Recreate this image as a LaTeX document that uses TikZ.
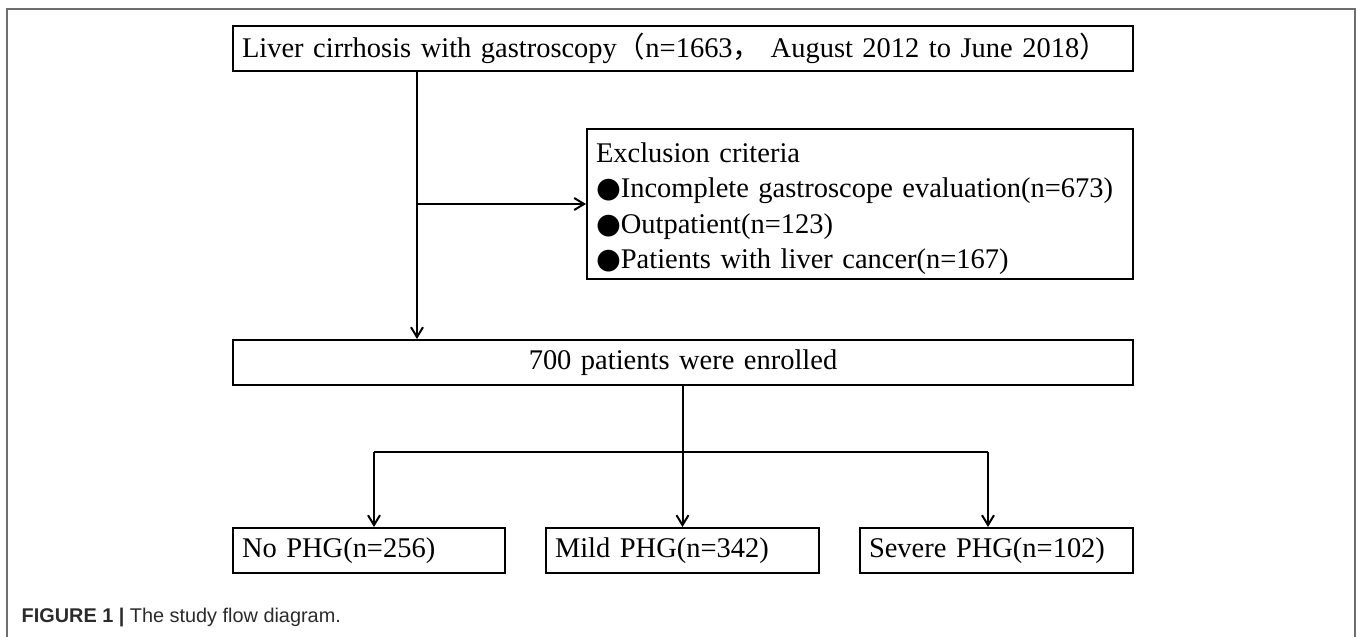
\documentclass[tikz,border=0pt]{standalone}
\usepackage{fontspec}
\setmainfont{Liberation Serif}
\newfontfamily\cjk{Noto Sans CJK SC}
\newfontfamily\dejavu{DejaVu Sans}
\newfontfamily\capfont{Liberation Sans}
\usetikzlibrary{arrows.meta}
\newlength\ppx
\setlength\ppx{0.01cm}
\definecolor{framegray}{HTML}{6E6E6E}
\definecolor{captext}{HTML}{2B2B2B}
\newcommand\bul{{\dejavu ●}}
\tikzset{
  box/.style={draw, line width=0.57pt, rectangle, inner xsep=9\ppx, inner ysep=0pt,
    minimum height=45\ppx, anchor=north west, align=left,
    font=\fontsize{8.1pt}{10pt}\selectfont},
  conn/.style={line width=0.57pt},
  arr/.style={conn, -{Straight Barb[length=2.8pt,width=3.4pt,line width=0.57pt]}},
}
\begin{document}
\begin{tikzpicture}[x=0.01cm, y=-0.01cm]
\useasboundingbox (0,0) rectangle (1357,637);
% outer frame (open at bottom)
\draw[framegray, line width=0.42pt] (7,637) -- (7,9) -- (1355,9) -- (1355,637);

% boxes
\node[box, text width=882\ppx] (top) at (232,25)
  {Liver cirrhosis with gastroscopy{\cjk （}n=1663{\cjk ，} August 2012 to June 2018{\cjk ）}};
\node[box, text width=528\ppx, minimum height=150\ppx, inner xsep=9\ppx] (excl) at (586,128)
  {\rule{0pt}{29\ppx}Exclusion criteria\\
   \bul Incomplete gastroscope evaluation(n=673)\\
   \bul Outpatient(n=123)\\
   \bul Patients with liver cancer(n=167)};
\node[box, text width=900\ppx, inner xsep=0pt, align=center] (enr) at (232,339)
  {700 patients were enrolled};
\node[box, text width=254\ppx] (nophg) at (232,527) {No PHG(n=256)};
\node[box, text width=255\ppx] (mild) at (545,527) {Mild PHG(n=342)};
\node[box, text width=255\ppx] (sev) at (859,527) {Severe PHG(n=102)};

% connectors
\coordinate (spine) at (417,0);
\draw[arr] (top.south -| spine) -- (enr.north -| spine);
\draw[arr] (spine |- excl.west) -- (excl.west);
\draw[arr] (enr.south -| mild.north) -- (mild.north);
\coordinate (bl) at (374,452);
\coordinate (br) at (988,452);
\draw[conn] (bl) -- (br);
\draw[arr] (bl) -- (bl |- nophg.north);
\draw[arr] (br) -- (br |- sev.north);

% caption
\node[anchor=base west, inner sep=0pt, text=captext,
  font=\capfont\fontsize{5.65pt}{6.5pt}\selectfont] (cap) at (21,623)
  {\textbf{FIGURE 1 |} The study flow diagram.};
\end{tikzpicture}
\end{document}
